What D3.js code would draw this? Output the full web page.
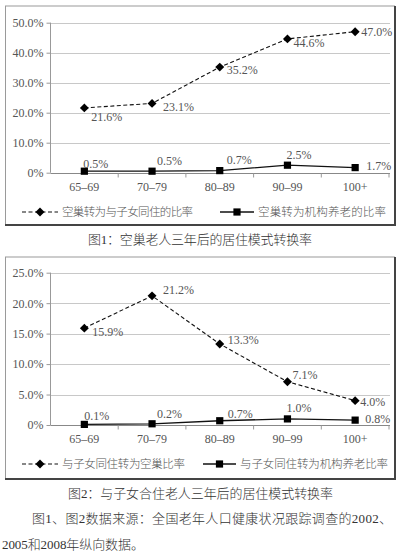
<html lang="zh">
<head>
  <meta charset="utf-8"/>
  <title>居住模式转换率</title>
  <script src="https://d3js.org/d3.v7.min.js"></script>
  <style>
  body { margin:0; background:#fff; }
  .num { font-family:"Liberation Serif", "DejaVu Serif", serif; fill:#555; font-size:12px; }
  .cjk { font-family:"Liberation Serif", "Noto Sans CJK SC", sans-serif; font-weight:300; }
  .grid line { stroke:#c8c8c8; stroke-width:1px; }
  .frame { fill:none; stroke:#9a9a9a; stroke-width:1px; }
  .shadow { stroke:#444; stroke-width:2px; }
  </style>
</head>
<body>
  <svg id="fig" width="400" height="554"></svg>
  <script>
    // data
    const ageGroups = ["65–69", "70–79", "80–89", "90–99", "100+"];

    const fig1Ticks = [0, 10, 20, 30, 40, 50];
    const emptyToChildren = [21.6, 23.1, 35.2, 44.6, 47.0];
    const emptyToInstitution = [0.5, 0.5, 0.7, 2.5, 1.7];
    const fig1Names = ["空巢转为与子女同住的比率", "空巢转为机构养老的比率"];
    const fig1Caption = "图1：空巢老人三年后的居住模式转换率";

    const fig2Ticks = [0, 5, 10, 15, 20, 25];
    const childrenToEmpty = [15.9, 21.2, 13.3, 7.1, 4.0];
    const childrenToInstitution = [0.1, 0.2, 0.7, 1.0, 0.8];
    const fig2Names = ["与子女同住转为空巢比率", "与子女同住转为机构养老比率"];
    const fig2Caption = "图2：与子女合住老人三年后的居住模式转换率";

    const sourceLines = ["图1、图2数据来源：全国老年人口健康状况跟踪调查的2002、", "2005和2008年纵向数据。"];

    // label nudges (dx, dy) so the value texts sit where the original put them
    const fig1Nudge = [
      [[7,9],[11,3],[7,3],[6,4],[6,0]],
      [[-1,-7],[5,-10],[7,-11],[-1,-10],[11,-2]]
    ];
    const fig2Nudge = [
      [[8,4],[11,-6],[8,-4],[5,-7],[5,1]],
      [[0,-9],[5,-10],[8,-7],[-1,-11],[10,-1]]
    ];

    const svg = d3.select("#fig");

    function fmt(v) {
      return v === 0 ? "0%" : v.toFixed(1) + "%";
    }

    // square turned on its corner, like the original marker
    const diamond = {
      draw(ctx, size) {
        const r = Math.sqrt(size / 2);
        ctx.moveTo(0, -r); ctx.lineTo(r, 0); ctx.lineTo(0, r); ctx.lineTo(-r, 0); ctx.closePath();
      }
    };

    function drawChart(o) {
      const g = svg.append("g");

      // frame
      g.append("rect").attr("class", "frame")
        .attr("x", 5.5).attr("y", o.frameTop).attr("width", 389).attr("height", o.frameH);
      g.append("line").attr("class", "shadow")
        .attr("x1", 395).attr("x2", 395).attr("y1", o.frameTop).attr("y2", o.frameTop + o.frameH + 1);
      g.append("line").attr("class", "shadow")
        .attr("x1", 5).attr("x2", 396).attr("y1", o.frameTop + o.frameH).attr("y2", o.frameTop + o.frameH);

      const x = d3.scaleBand().domain(ageGroups).range([50.5, 389]);
      const y = d3.scaleLinear().domain([0, d3.max(o.ticks)]).range([o.y0, o.y1]);

      // gridlines
      g.append("g").attr("class", "grid").selectAll("line").data(o.ticks.slice(1)).join("line")
        .attr("x1", 50.5).attr("x2", 390)
        .attr("y1", d => Math.round(y(d)) + 0.5).attr("y2", d => Math.round(y(d)) + 0.5);

      // y axis
      const yAxis = g.append("g").attr("transform", "translate(50.5,0)")
        .call(d3.axisLeft(y).tickValues(o.ticks).tickSize(4).tickPadding(3).tickFormat(fmt));
      yAxis.attr("font-family", null).attr("font-size", null);
      yAxis.select(".domain").attr("stroke", "#999").attr("d", "M0," + o.y0 + "V" + o.y1);
      yAxis.selectAll(".tick line").attr("stroke", "#999");
      yAxis.selectAll(".tick text").attr("class", "num").attr("fill", null);

      // x axis
      const xAxis = g.append("g").attr("transform", "translate(0," + (Math.round(o.y0) + 0.5) + ")")
        .call(d3.axisBottom(x).tickSize(0).tickPadding(9));
      xAxis.attr("font-family", null).attr("font-size", null);
      xAxis.select(".domain").attr("stroke", "#888").attr("d", "M50.5,0H390");
      xAxis.selectAll(".tick text").attr("class", "num").attr("fill", null);
      xAxis.selectAll("line.sep").data(ageGroups).join("line").attr("class", "sep")
        .attr("x1", d => x(d) + x.bandwidth()).attr("x2", d => x(d) + x.bandwidth())
        .attr("y1", 0).attr("y2", 4).attr("stroke", "#999");

      const lineGen = d3.line().x((d, i) => x(ageGroups[i]) + x.bandwidth() / 2).y(d => y(d));
      const symbols = [d3.symbol(diamond, 40), d3.symbol(d3.symbolSquare, 52)];

      o.series.forEach((s, k) => {
        g.append("path").datum(s)
          .attr("fill", "none").attr("stroke", "#111")
          .attr("stroke-width", k === 0 ? 1.1 : 1.3)
          .attr("stroke-dasharray", k === 0 ? "4,2.5" : null)
          .attr("d", lineGen);
        g.selectAll("path.m" + k).data(s).join("path").attr("class", "m" + k)
          .attr("transform", (d, i) => "translate(" + (x(ageGroups[i]) + x.bandwidth() / 2) + "," + y(d) + ")")
          .attr("d", symbols[k]).attr("fill", "#000");
        g.selectAll("text.l" + k).data(s).join("text").attr("class", "num l" + k)
          .attr("x", (d, i) => x(ageGroups[i]) + x.bandwidth() / 2 + o.nudge[k][i][0])
          .attr("y", (d, i) => y(d) + o.nudge[k][i][1])
          .attr("dy", "0.35em")
          .text(d => d.toFixed(1) + "%");
      });

      // legend
      o.legend.forEach((L, k) => {
        const lg = g.append("g").attr("transform", "translate(0," + o.legendY + ")");
        lg.append("line").attr("x1", L.x1).attr("x2", L.x2).attr("y1", 0).attr("y2", 0)
          .attr("stroke", "#111").attr("stroke-width", k === 0 ? 1.1 : 1.3)
          .attr("stroke-dasharray", k === 0 ? "4,2.5" : null);
        lg.append("path").attr("transform", "translate(" + ((L.x1 + L.x2) / 2) + ",0)")
          .attr("d", symbols[k]).attr("fill", "#000");
        lg.append("text").attr("class", "cjk").attr("x", L.tx).attr("dy", "0.36em")
          .attr("font-size", 11.5).attr("fill", "#555")
          .attr("textLength", L.tw).attr("lengthAdjust", "spacing")
          .text(o.names[k]);
      });

      // caption
      svg.append("text").attr("class", "cjk").attr("x", o.capX).attr("y", o.capY).attr("dy", "0.36em")
        .attr("font-size", 13).attr("fill", "#333")
        .attr("textLength", o.capW).attr("lengthAdjust", "spacing")
        .text(o.caption);
    }

    drawChart({
      frameTop: 6, frameH: 219, y0: 172.7, y1: 22.7, ticks: fig1Ticks,
      series: [emptyToChildren, emptyToInstitution], nudge: fig1Nudge, names: fig1Names,
      legendY: 212,
      legend: [{x1: 22, x2: 58, tx: 62, tw: 131}, {x1: 220, x2: 254, tx: 258, tw: 128}],
      caption: fig1Caption, capX: 88, capY: 239, capW: 224
    });

    drawChart({
      frameTop: 257, frameH: 222, y0: 425, y1: 272.7, ticks: fig2Ticks,
      series: [childrenToEmpty, childrenToInstitution], nudge: fig2Nudge, names: fig2Names,
      legendY: 464,
      legend: [{x1: 22, x2: 58, tx: 62, tw: 123}, {x1: 203, x2: 236, tx: 240, tw: 148}],
      caption: fig2Caption, capX: 68, capY: 493, capW: 265
    });

    // source note
    svg.append("text").attr("class", "cjk").attr("x", 32).attr("y", 518).attr("dy", "0.36em")
      .attr("font-size", 13).attr("fill", "#333")
      .attr("textLength", 360).attr("lengthAdjust", "spacing").text(sourceLines[0]);
    svg.append("text").attr("class", "cjk").attr("x", 2).attr("y", 544).attr("dy", "0.36em")
      .attr("font-size", 13).attr("fill", "#333")
      .attr("textLength", 142).attr("lengthAdjust", "spacing").text(sourceLines[1]);
  </script>
</body>
</html>
